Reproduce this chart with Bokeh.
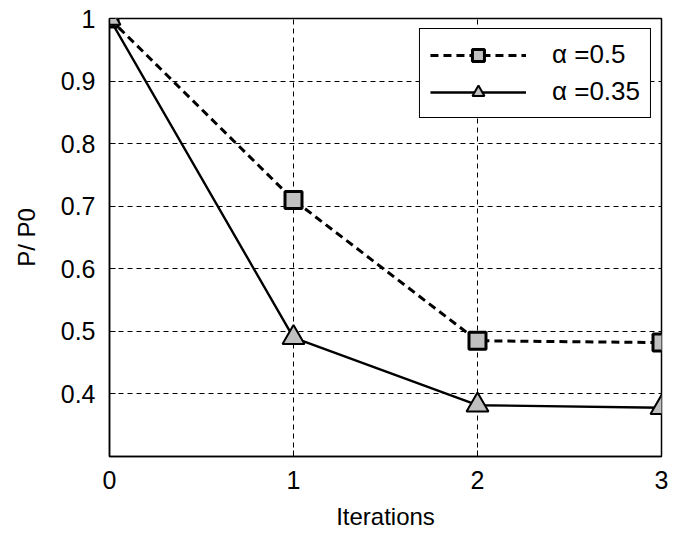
from bokeh.plotting import figure
from bokeh.models import Range1d, Legend, LegendItem, FixedTicker
from bokeh.embed import file_html
from bokeh.resources import INLINE

iterations = [0, 1, 2, 3]
alpha_05 = [1.0, 0.71, 0.485, 0.482]
alpha_035 = [1.0, 0.49, 0.382, 0.378]
x_ticks = [0, 1, 2, 3]
y_ticks = [0.4, 0.5, 0.6, 0.7, 0.8, 0.9, 1.0]
label_05 = "\u03b1 =0.5"
label_035 = "\u03b1 =0.35"

FONT = "Liberation Sans"

p = figure(width=683, height=533, output_backend="svg", toolbar_location=None,
           x_range=Range1d(0, 3), y_range=Range1d(0.3, 1.0),
           min_border_left=109, min_border_right=22, min_border_top=18, min_border_bottom=77)
p.background_fill_color = "white"
p.border_fill_color = "white"
p.outline_line_color = "black"
p.outline_line_width = 1.5

for ax, ticks in ((p.xaxis[0], x_ticks), (p.yaxis[0], y_ticks)):
    ax.ticker = FixedTicker(ticks=ticks)
    ax.major_tick_in = 6
    ax.major_tick_out = 0
    ax.minor_tick_line_color = None
    ax.axis_line_width = 1.5
    ax.major_tick_line_width = 1
    ax.major_label_text_font = FONT
    ax.major_label_text_font_size = "25px"
    ax.major_label_text_color = "black"
    ax.axis_label_text_font = FONT
    ax.axis_label_text_font_size = "24px"
    ax.axis_label_text_font_style = "normal"
    ax.axis_label_text_color = "black"

p.yaxis[0].major_label_overrides = {1: "1"}
p.xaxis[0].axis_label = "Iterations"
p.yaxis[0].axis_label = "P/ P0"
p.xaxis[0].major_label_standoff = 14
p.yaxis[0].major_label_standoff = 14
p.xaxis[0].axis_label_standoff = 11
p.yaxis[0].axis_label_standoff = 18

p.xgrid.ticker = FixedTicker(ticks=x_ticks)
p.ygrid.ticker = FixedTicker(ticks=y_ticks)
for g in (p.xgrid[0], p.ygrid[0]):
    g.grid_line_color = "black"
    g.grid_line_dash = "5 4"
    g.grid_line_width = 1
    g.grid_line_alpha = 1.0

l1 = p.line(iterations, alpha_05, line_color="black", line_width=3, line_dash="8 5")
m1 = p.scatter(iterations, alpha_05, marker="square", size=17, fill_color="#c0c0c0",
               line_color="black", line_width=3)
l2 = p.line(iterations, alpha_035, line_color="black", line_width=2.4)
m2 = p.scatter(iterations, alpha_035, marker="triangle", size=22, fill_color="#c0c0c0",
               line_color="black", line_width=2)

legend = Legend(items=[LegendItem(label=label_05, renderers=[l1, m1]),
                       LegendItem(label=label_035, renderers=[l2, m2])],
                location="top_right")
legend.glyph_width = 96
legend.glyph_height = 30
legend.label_standoff = 26
legend.label_text_font = FONT
legend.label_text_font_size = "26px"
legend.label_text_color = "black"
legend.label_height = 30
legend.border_line_color = "black"
legend.border_line_width = 1.5
legend.border_line_alpha = 1.0
legend.padding = 10
legend.spacing = 6
legend.margin = 10
legend.background_fill_alpha = 1.0
p.add_layout(legend, "center")

open("out.html", "w").write(file_html(p, INLINE))
